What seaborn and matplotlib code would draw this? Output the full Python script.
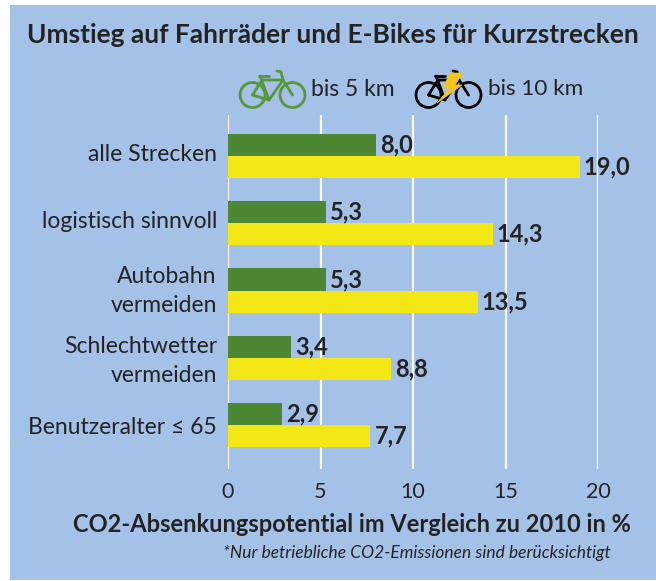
import matplotlib
matplotlib.use("Agg")
import matplotlib.pyplot as plt
import pandas as pd
import seaborn as sns
from matplotlib.patches import Ellipse, Polygon, Rectangle
from matplotlib.lines import Line2D
from matplotlib.transforms import ScaledTranslation

categories = ["alle Strecken", "logistisch sinnvoll", "Autobahn\nvermeiden",
              "Schlechtwetter\nvermeiden", "Benutzeralter ≤ 65"]
bis5 = [8.0, 5.3, 5.3, 3.4, 2.9]
bis10 = [19.0, 14.3, 13.5, 8.8, 7.7]
labels5 = ["8,0", "5,3", "5,3", "3,4", "2,9"]
labels10 = ["19,0", "14,3", "13,5", "8,8", "7,7"]
series = ["bis 5 km", "bis 10 km"]
ticks = [0, 5, 10, 15, 20]

W, H = 656, 581
BG = "#a4c1e8"
GREEN = "#4d8733"
YELLOW = "#f3e716"
INK = "#232323"
FONT = "Lato"

sns.set_theme(style="white")
plt.rcParams["font.family"] = [FONT, "DejaVu Sans"]

df = pd.DataFrame({"cat": categories * 2,
                   "value": bis5 + bis10,
                   "series": [series[0]] * 5 + [series[1]] * 5})

fig = plt.figure(figsize=(W / 100, H / 100), dpi=100, facecolor="white")
fig.add_artist(Rectangle((10 / W, 1 - 580 / H), (W - 10) / W, 575 / H,
                         transform=fig.transFigure, facecolor=BG, edgecolor="none", zorder=-5))

x0, x20 = 228, 598
top, bottom = 115, 469
ax = fig.add_axes([x0 / W, 1 - bottom / H, (x20 - x0) / W, (bottom - top) / H])
ax.patch.set_alpha(0)
sns.barplot(data=df, y="cat", x="value", hue="series", order=categories, hue_order=series,
            palette=[GREEN, YELLOW], width=0.655, dodge=True, gap=0, legend=False,
            saturation=1, linewidth=0, edgecolor="none", ax=ax, zorder=3)
ax.set_xlim(0, 20)
ax.set_ylim(4.654, -0.61)
ax.set_xticks(ticks)
ax.set_xticklabels([str(t) for t in ticks], fontsize=15.5, color=INK)
ax.tick_params(axis="x", length=0, pad=9)
ax.tick_params(axis="y", length=0, pad=8)
ax.set_yticks(range(5))
ax.set_yticklabels(categories, fontsize=16.5, color=INK, linespacing=1.5, ha="right")
label_shift_px = [4, 4, 6, 3, 0]
for lab, dy in zip(ax.get_yticklabels(), label_shift_px):
    lab.set_transform(lab.get_transform() + ScaledTranslation(0, dy / 100, fig.dpi_scale_trans))
ax.set_xlabel("")
ax.set_ylabel("")
for s in ax.spines.values():
    s.set_visible(False)
ax.xaxis.grid(True, color="white", linewidth=1.6, zorder=1)
ax.set_axisbelow(True)
ax.yaxis.grid(False)

for cont, labs in zip(ax.containers, [labels5, labels10]):
    ax.bar_label(cont, labels=labs, padding=3, fontsize=17, fontweight="bold", color=INK, zorder=5)

fig.text(333 / W, 1 - 35 / H, "Umstieg auf Fahrräder und E-Bikes für Kurzstrecken",
         ha="center", va="center", fontsize=19, fontweight="bold", color=INK)
fig.text(352 / W, 1 - 524 / H, "CO2-Absenkungspotential im Vergleich zu 2010 in %",
         ha="center", va="center", fontsize=17, fontweight="bold", color=INK)
fig.text(417 / W, 1 - 553 / H, "*Nur betriebliche CO2-Emissionen sind berücksichtigt",
         ha="center", va="center", fontsize=12.5, style="italic", color=INK)
fig.text(353 / W, 1 - 89 / H, series[0], ha="center", va="center", fontsize=16.5, color=INK)
fig.text(536 / W, 1 - 89 / H, series[1], ha="center", va="center", fontsize=16.2, color=INK)


def bike(ox, color, lw=2.0):
    def P(x, y):
        return ((ox + x) / W, 1 - y / H)
    tr = fig.transFigure
    for cx in (12.5, 52.5):
        fig.add_artist(Ellipse(P(cx, 95), 25 / W, 25 / H, transform=tr,
                               facecolor="none", edgecolor=color, linewidth=lw, zorder=4))
    frame = [[(12.5, 95), (22, 80), (43, 80), (29, 100), (12.5, 95)],
             [(20, 76), (29, 100)], [(43, 80), (52.5, 95)], [(41, 72), (43, 80)],
             [(18.5, 76), (29, 76)], [(37, 71), (41, 72)]]
    for seg in frame:
        xs, ys = zip(*[P(*p) for p in seg])
        fig.add_artist(Line2D(xs, ys, transform=tr, color=color, linewidth=lw, zorder=4))


bike(240, "#57973a")
bike(416, "black")
bolt = [(463, 73), (450, 73), (443, 88), (450, 88), (437, 103), (462, 85), (455, 85)]
fig.add_artist(Polygon([(x / W, 1 - y / H) for x, y in bolt], closed=True, transform=fig.transFigure,
                       facecolor="#f5c518", edgecolor="#f5c518", linewidth=0.5, zorder=6))

fig.savefig("out.png", dpi=100, facecolor="white")
